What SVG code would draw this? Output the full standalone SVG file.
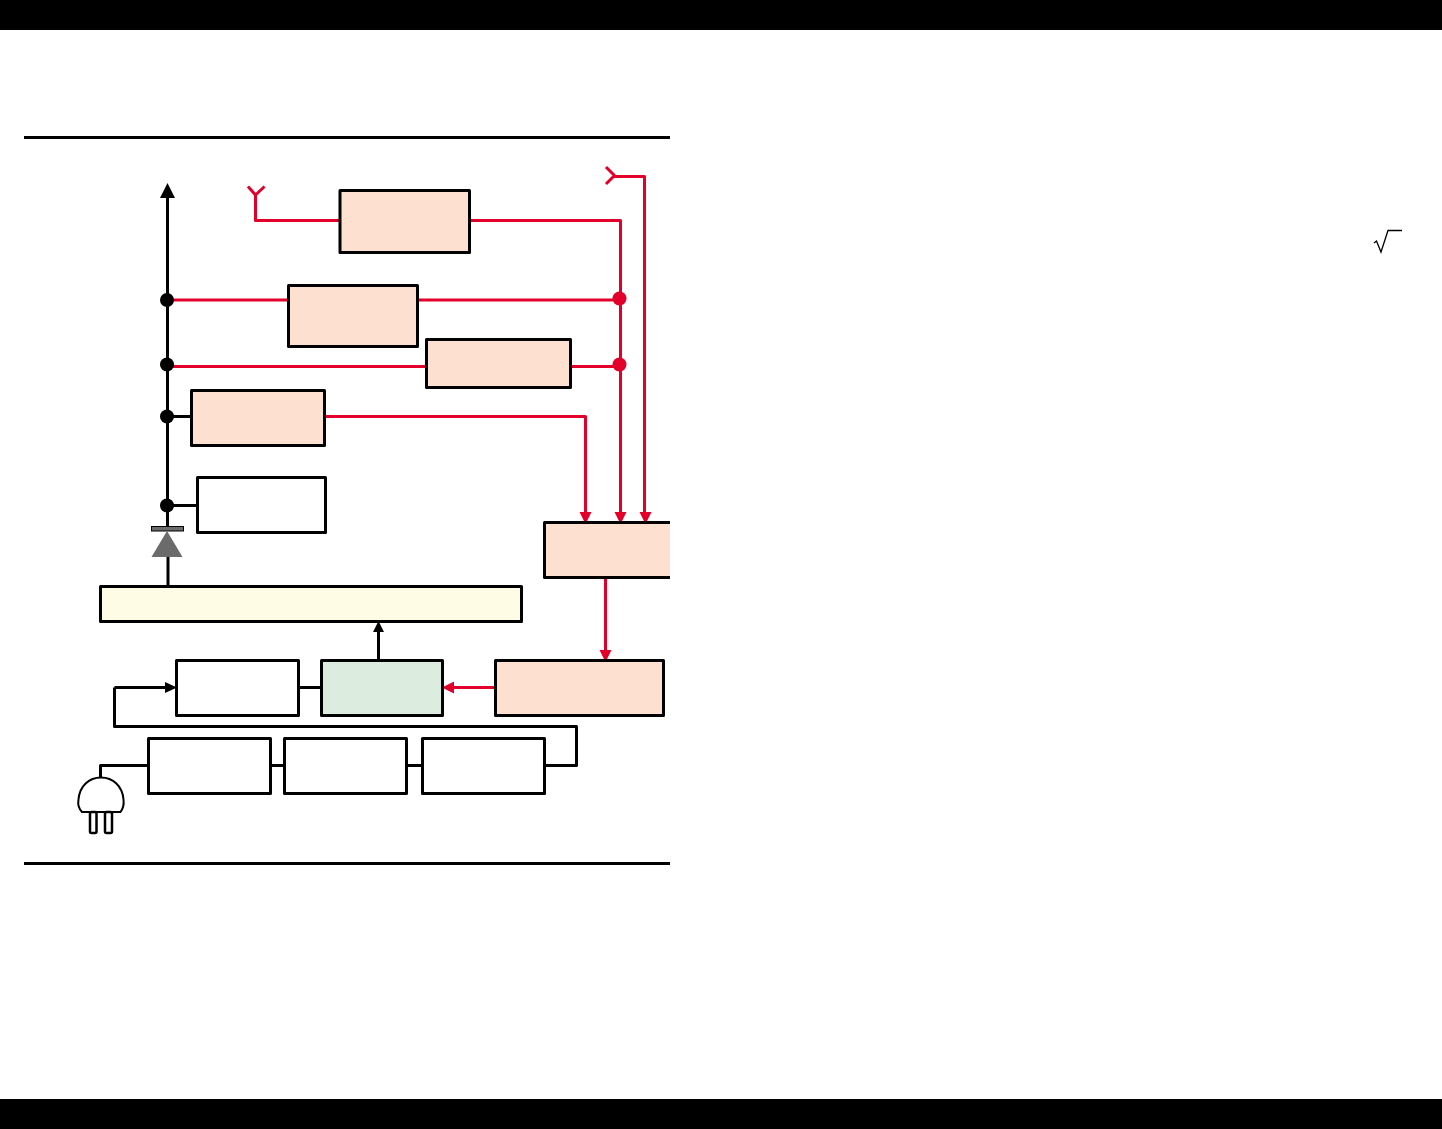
<svg xmlns="http://www.w3.org/2000/svg" width="1442" height="1129" viewBox="0 0 1442 1129">
<style>
.box{stroke:#000;stroke-width:3;stroke-linejoin:round}
.peach{fill:#fde0d0}.white{fill:#fff}.yellow{fill:#fefce4}.green{fill:#dcecdf}
.k{fill:none;stroke:#000;stroke-width:3;stroke-linejoin:round}
.r{fill:none;stroke:#e2002a;stroke-width:3;stroke-linejoin:round}
.rh{fill:#e2002a}.kh{fill:#000}
</style>
<rect width="1442" height="30" fill="#000"/>
<rect y="1099" width="1442" height="30" fill="#000"/>
<path d="M24 137.500H670M24 863.500H670" class="k"/>
<g id="connectors">
<path class="k" d="M167.500 195V526M168 557V587"/>
<path class="k" d="M167 505.500H198M167 416.500H192M299 687.500H322M378.500 660V630M114.500 687.500H168M114.500 687.500V726.500H576.500V765.500H545M270 765.500H285M407 765.500H423M148 765.500H100.500V778"/>
<path class="r" d="M167 300H289M418 300H620M167 366.500H427M571 366.500H620M325 416.500H585.500V514M470 220.500H620.500V514M340 220.500H255.500V195M248 186.500L255.500 195L264.500 186.500M644.500 514V176.500H614M606 167L614.500 175.500L606 184M605.500 578V653M494 687.500H451"/>
<path class="rh" d="M579.500 512H591.500L585.500 524ZM614.500 512H626.500L620.500 524ZM639.500 512H651.500L645.500 524ZM599.500 650H611.500L605.500 662ZM454 681.500V693.500L442 687.500Z"/>
<path class="kh" d="M167.500 183L175 198H160ZM373 632H384L378.500 621ZM165 682V693L177 687.500Z"/>
<circle class="kh" cx="167" cy="300" r="7"/>
<circle class="kh" cx="167" cy="364.500" r="7"/>
<circle class="kh" cx="167" cy="416.500" r="7"/>
<circle class="kh" cx="167" cy="505.500" r="7"/>
<circle class="rh" cx="619.500" cy="298.500" r="7"/>
<circle class="rh" cx="619.500" cy="364.500" r="7"/>
</g>
<g id="n1"><rect class="box peach" x="340" y="190.500" width="129.500" height="62"/></g>
<g id="n2"><rect class="box peach" x="288.500" y="285.500" width="129" height="61"/></g>
<g id="n3"><rect class="box peach" x="426.500" y="339.500" width="144" height="48"/></g>
<g id="n4"><rect class="box peach" x="191.500" y="390.500" width="133" height="55"/></g>
<g id="n5"><rect class="box white" x="197.500" y="477.500" width="128" height="55"/></g>
<g id="n6"><path class="peach" d="M544.500 522.500H670V577.500H544.500Z"/><path class="k" d="M670 522.500H544.500V577.500H670"/></g>
<g id="n7"><rect class="box yellow" x="100.500" y="586.500" width="421" height="35"/></g>
<g id="n8"><rect class="box white" x="176.500" y="660.500" width="122" height="55"/></g>
<g id="n9"><rect class="box green" x="321.500" y="660.500" width="121" height="55"/></g>
<g id="n10"><rect class="box peach" x="495.500" y="660.500" width="168" height="55"/></g>
<g id="n11"><rect class="box white" x="148.500" y="738.500" width="122" height="55"/></g>
<g id="n12"><rect class="box white" x="284.500" y="738.500" width="122" height="55"/></g>
<g id="n13"><rect class="box white" x="422.500" y="738.500" width="122" height="55"/></g>
<g id="diode">
<rect x="151.500" y="526.500" width="32" height="4.500" fill="#6b6b6b" stroke="#000"/>
<path d="M167 531L182.500 557H151.500Z" fill="#6b6b6b"/>
</g>
<g id="plug">
<path d="M82 812C76.500 806 78.500 801 78.500 799.500C79.500 786 89 777.500 101 777.500C113 777.500 122.500 786 123.500 799.500C123.500 801 125 806 120.500 812Z" fill="#fff" stroke="#000" stroke-width="2"/>
<rect x="90" y="812" width="6.500" height="21" rx="1.500" fill="#fff" stroke="#000" stroke-width="2.500"/>
<rect x="105" y="812" width="7" height="21" rx="1.500" fill="#fff" stroke="#000" stroke-width="2.500"/>
</g>
<g id="radical"><path d="M1374 243L1376.500 241L1381 252L1388 230.500H1402" fill="none" stroke="#000" stroke-width="1.300"/></g>
</svg>
